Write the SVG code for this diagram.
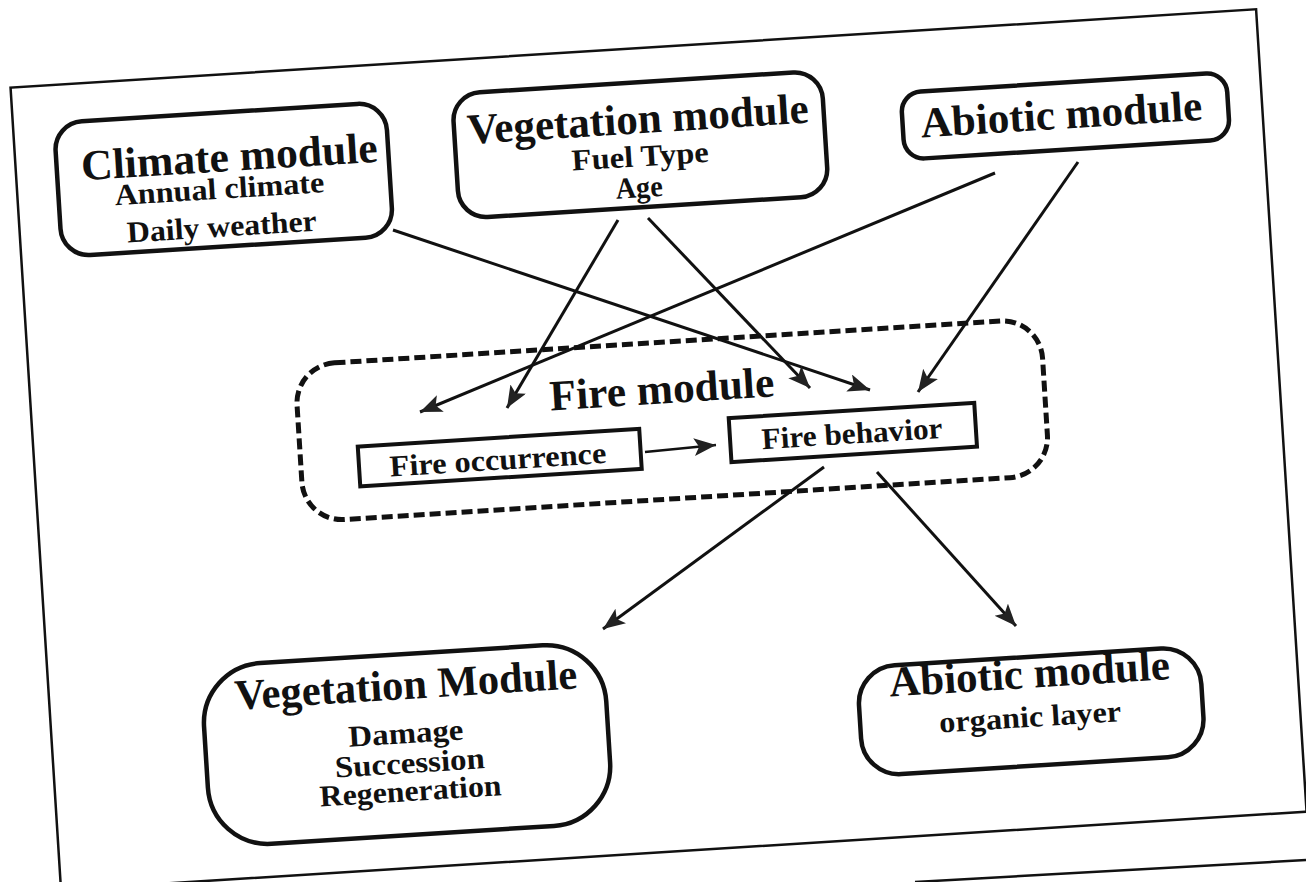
<svg xmlns="http://www.w3.org/2000/svg" width="1306" height="882" viewBox="0 0 1306 882">
  <defs>
    <style>
      .frame { fill: none; stroke: #111; stroke-width: 2.5; }
      .box { fill: none; stroke: #111; stroke-width: 4.5; }
      .inner { fill: #fff; stroke: #111; stroke-width: 4; }
      .dash { fill: none; stroke: #111; stroke-width: 5; stroke-dasharray: 11 5; }
      .title { font-family: "Liberation Serif", "Times New Roman", serif; font-weight: bold; font-size: 43px; fill: #111; text-anchor: middle; }
      .sub { font-family: "Liberation Serif", "Times New Roman", serif; font-weight: bold; font-size: 30px; fill: #111; text-anchor: middle; }
      .edge { fill: none; stroke: #111; stroke-width: 3; marker-end: url(#ah); }
    </style>
    <marker id="ah" markerUnits="userSpaceOnUse" markerWidth="26" markerHeight="20" refX="22" refY="9" orient="auto">
      <path d="M0,0 L22,9 L0,18 L5,9 z" fill="#222"/>
    </marker>
  </defs>

  <rect width="1306" height="882" fill="#fff"/>

  <!-- whole sheet is tilted slightly -->
  <g transform="rotate(-3.6 653 441)">
    <rect class="frame" x="34" y="48" width="1248" height="804"/>

    <g id="climate-module">
      <rect class="box" x="75" y="86" width="332" height="134" rx="28"/>
      <text class="title" x="248" y="145" textLength="297" lengthAdjust="spacingAndGlyphs">Climate module</text>
      <text class="sub" x="236" y="172" textLength="210" lengthAdjust="spacingAndGlyphs">Annual climate</text>
      <text class="sub" x="236" y="210" textLength="190" lengthAdjust="spacingAndGlyphs">Daily weather</text>
    </g>

    <g id="vegetation-module-in">
      <rect class="box" x="474" y="82" width="370" height="125" rx="28"/>
      <text class="title" x="658" y="133" textLength="342" lengthAdjust="spacingAndGlyphs">Vegetation module</text>
      <text class="sub" x="658" y="166" textLength="137" lengthAdjust="spacingAndGlyphs">Fuel Type</text>
      <text class="sub" x="655" y="197" textLength="47" lengthAdjust="spacingAndGlyphs">Age</text>
    </g>

    <g id="abiotic-module-in">
      <rect class="box" x="922" y="109" width="326" height="67" rx="20"/>
      <text class="title" x="1081" y="155" textLength="282" lengthAdjust="spacingAndGlyphs">Abiotic module</text>
    </g>

    <g id="fire-module">
      <rect class="dash" x="300" y="343" width="747" height="157" rx="40"/>
      <text class="title" x="665" y="404" textLength="225" lengthAdjust="spacingAndGlyphs">Fire module</text>
    </g>

    <g id="fire-occurrence">
      <rect class="inner" x="358" y="428" width="282" height="40"/>
      <text class="sub" x="497" y="460" font-size="31" textLength="217" lengthAdjust="spacingAndGlyphs">Fire occurrence</text>
    </g>

    <g id="fire-behavior">
      <rect class="inner" x="730" y="423" width="246" height="44"/>
      <text class="sub" x="852" y="456" font-size="31" textLength="181" lengthAdjust="spacingAndGlyphs">Fire behavior</text>
    </g>

    <g id="vegetation-module-out">
      <rect class="box" x="187" y="638" width="403" height="181" rx="60"/>
      <text class="title" x="391" y="683" textLength="343" lengthAdjust="spacingAndGlyphs">Vegetation Module</text>
      <text class="sub" x="388" y="727" textLength="115" lengthAdjust="spacingAndGlyphs">Damage</text>
      <text class="sub" x="390" y="757" textLength="150" lengthAdjust="spacingAndGlyphs">Succession</text>
      <text class="sub" x="389" y="785" textLength="182" lengthAdjust="spacingAndGlyphs">Regeneration</text>
    </g>

    <g id="abiotic-module-out">
      <rect class="box" x="842" y="680" width="343" height="109" rx="38"/>
      <text class="title" x="1014" y="711" textLength="281" lengthAdjust="spacingAndGlyphs">Abiotic module</text>
      <text class="sub" x="1012" y="750" textLength="182" lengthAdjust="spacingAndGlyphs">organic layer</text>
    </g>
  </g>

  <g id="connectors">
    <line class="edge" x1="393" y1="230" x2="870" y2="390"/>
    <line class="edge" x1="618" y1="220" x2="507" y2="408"/>
    <line class="edge" x1="648" y1="218" x2="810" y2="388"/>
    <line class="edge" x1="995" y1="173" x2="420" y2="412"/>
    <line class="edge" x1="1078" y1="162" x2="918" y2="392"/>
    <line class="edge" x1="645" y1="452" x2="716" y2="445" style="stroke-width:2.5"/>
    <line class="edge" x1="824" y1="467" x2="603" y2="629"/>
    <line class="edge" x1="877" y1="472" x2="1016" y2="626"/>
  </g>

  <!-- second sheet edge at the lower right -->
  <line x1="915" y1="882" x2="1306" y2="860" stroke="#111" stroke-width="2.5"/>
</svg>
